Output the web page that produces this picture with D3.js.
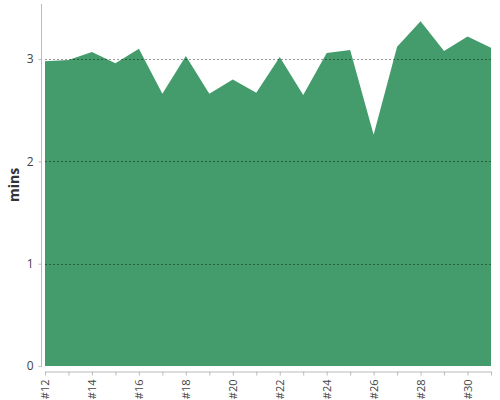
<!DOCTYPE html>
<html>
<head>
<meta charset="utf-8">
<script src="https://cdn.jsdelivr.net/npm/d3@7"></script>
<style>
  body { margin: 0; background: #fff; }
  svg, svg text { font-family: "Open Sans", "Noto Sans", sans-serif; }
</style>
</head>
<body>
<svg id="chart" width="500" height="400"></svg>
<script>
// data
const labels = ['#12', '#13', '#14', '#15', '#16', '#17', '#18', '#19', '#20', '#21',
                '#22', '#23', '#24', '#25', '#26', '#27', '#28', '#29', '#30', '#31'];
const mins = [2.98, 2.99, 3.07, 2.96, 3.10, 2.66, 3.03, 2.66, 2.80, 2.67,
              3.02, 2.65, 3.06, 3.09, 2.26, 3.12, 3.37, 3.08, 3.22, 3.11];
const yTicks = [0, 1, 2, 3];

const svg = d3.select('#chart');
const plotLeft = 45, plotRight = 491, plotTop = 4, plotBottom = 366;

const x = d3.scalePoint().domain(labels).range([plotLeft, plotRight]);
const y = d3.scaleLinear()
    .domain([0, d3.max(mins) * 1.05])
    .range([plotBottom, plotTop]);

// area
svg.append('path')
    .datum(mins)
    .attr('fill', '#449c6c')
    .attr('d', d3.area()
        .x((d, i) => x(labels[i]))
        .y0(y(0))
        .y1(d => y(d)));

// grid lines on top
svg.append('g')
    .selectAll('line')
    .data(yTicks.filter(t => t > 0))
    .join('line')
    .attr('x1', plotLeft)
    .attr('x2', plotRight)
    .attr('y1', d => Math.round(y(d)) + 0.5)
    .attr('y2', d => Math.round(y(d)) + 0.5)
    .attr('stroke', '#000')
    .attr('stroke-opacity', 0.4)
    .attr('stroke-dasharray', '2,2');

// y axis
const yAxis = svg.append('g')
    .attr('transform', 'translate(41.5,0)')
    .call(d3.axisLeft(y).tickValues(yTicks).tickSize(3).tickPadding(5).tickFormat(d3.format('d')))
    .attr('font-family', null);
yAxis.select('.domain').attr('stroke', '#bbb').attr('d', 'M0,' + plotTop + 'V' + (plotBottom + 1));
yAxis.selectAll('.tick line').attr('stroke', '#bbb');
yAxis.selectAll('.tick text').attr('fill', '#444').attr('font-size', 12);

// x axis
const xAxis = svg.append('g')
    .attr('transform', 'translate(0,371.5)')
    .call(d3.axisBottom(x).tickSize(4).tickSizeOuter(0)
        .tickFormat((d, i) => i % 2 === 0 ? d : ''))
    .attr('font-family', null);
xAxis.select('.domain').attr('stroke', '#bbb');
xAxis.selectAll('.tick line').attr('stroke', '#bbb');
xAxis.selectAll('.tick text')
    .attr('fill', '#444')
    .attr('font-size', 11)
    .attr('text-anchor', 'end')
    .attr('transform', 'rotate(-90)')
    .attr('x', -8)
    .attr('y', 0)
    .attr('dy', '0.35em');

// y label
svg.append('text')
    .attr('transform', 'translate(19,' + ((plotTop + plotBottom) / 2) + ') rotate(-90)')
    .attr('text-anchor', 'middle')
    .attr('font-size', 14)
    .attr('font-weight', 'bold')
    .attr('fill', '#333')
    .text('mins');
</script>
</body>
</html>
